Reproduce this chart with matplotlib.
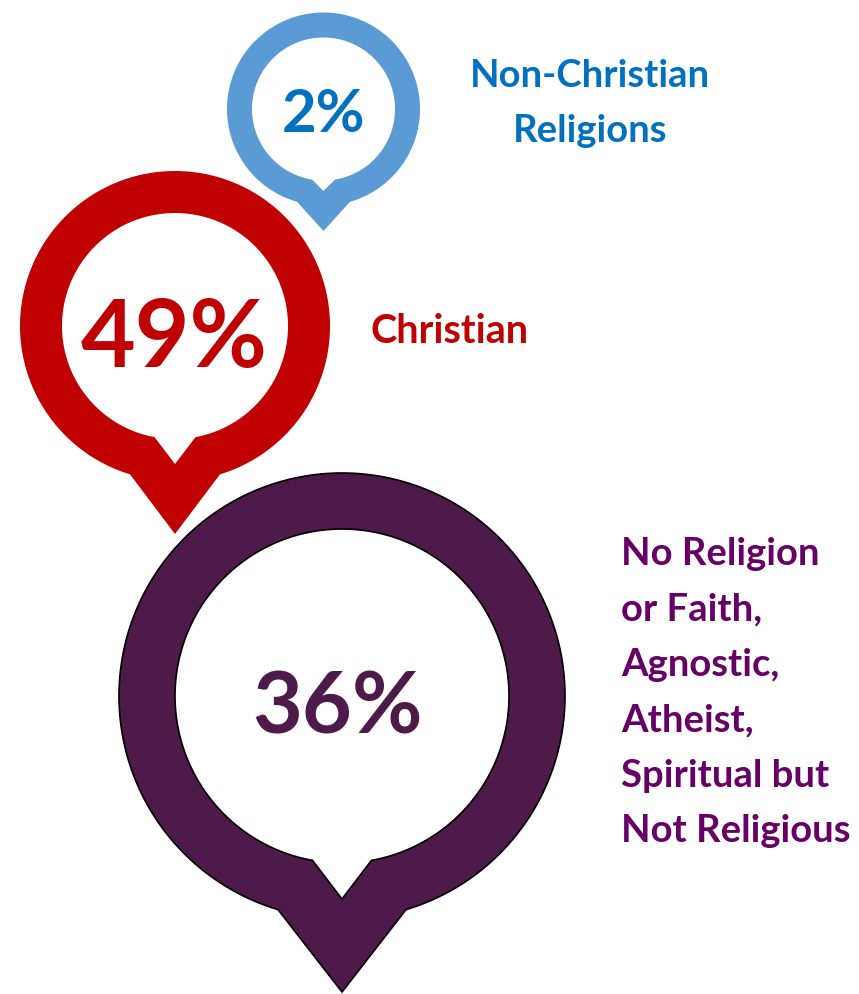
import numpy as np
import matplotlib
matplotlib.use("Agg")
import matplotlib.pyplot as plt
from matplotlib.patches import Polygon

# data
categories = ["Non-Christian\nReligions", "Christian",
              "No Religion\nor Faith,\nAgnostic,\nAtheist,\nSpiritual but\nNot Religious"]
shares = [2, 49, 36]
ring_colors = ["#5B9BD5", "#C00000", "#4E1A4A"]
value_colors = ["#0070C0", "#C00000", "#4E1A4A"]
label_colors = ["#0070C0", "#C00000", "#660066"]

# pin layout in pixels: centre, outer/inner radius, pointer half-widths and tips
pins = [
    dict(cx=323.5, cy=110, r_out=96.5, r_in=71.5, hw_out=26.5, tip_out=232, hw_in=11.5, tip_in=192),
    dict(cx=175, cy=327, r_out=155, r_in=113, hw_out=45, tip_out=535, hw_in=20.5, tip_in=465),
    dict(cx=342, cy=697, r_out=223, r_in=167, hw_out=64, tip_out=993, hw_in=29.5, tip_in=900),
]
value_pos = [(323, 132, 43), (174, 367, 68), (338, 733, 62)]
FONT = "Lato"


def pin_outline(cx, cy, r, hw, tip):
    phi0 = np.arcsin(hw / r)
    phi = np.linspace(phi0, 2 * np.pi - phi0, 300)
    pts = np.column_stack([cx + r * np.sin(phi), cy + r * np.cos(phi)])
    return np.vstack([pts, [cx, tip]])


fig = plt.figure(figsize=(8.59, 9.95), dpi=100)
ax = fig.add_axes([0, 0, 1, 1])
ax.set_xlim(0, 859)
ax.set_ylim(995, 0)
ax.axis("off")

# draw purple first, then red on top, then blue
for i in [2, 1, 0]:
    p = pins[i]
    edge = "black" if i == 2 else "none"
    outer = pin_outline(p["cx"], p["cy"], p["r_out"], p["hw_out"], p["tip_out"])
    inner = pin_outline(p["cx"], p["cy"], p["r_in"], p["hw_in"], p["tip_in"])
    ax.add_patch(Polygon(outer, closed=True, facecolor=ring_colors[i], edgecolor=edge, lw=1.2))
    ax.add_patch(Polygon(inner, closed=True, facecolor="white", edgecolor=edge, lw=1.2))
    x, y, fs = value_pos[i]
    ax.text(x, y, "{0}%".format(shares[i]), ha="center", va="baseline",
            fontsize=fs, fontweight="bold", family=FONT, color=value_colors[i])

# category labels
lines = categories[0].split("\n")
for k, line in enumerate(lines):
    ax.text(590, 87 + k * 55, line, ha="center", va="baseline", fontsize=27.5,
            fontweight="bold", family=FONT, color=label_colors[0])

ax.text(370, 343, categories[1], ha="left", va="baseline", fontsize=28.5,
        fontweight="bold", family=FONT, color=label_colors[1])

lines = categories[2].split("\n")
for k, line in enumerate(lines):
    ax.text(621, 565 + k * 55.4, line, ha="left", va="baseline", fontsize=27.5,
            fontweight="bold", family=FONT, color=label_colors[2])

fig.savefig("out.png", dpi=100)
